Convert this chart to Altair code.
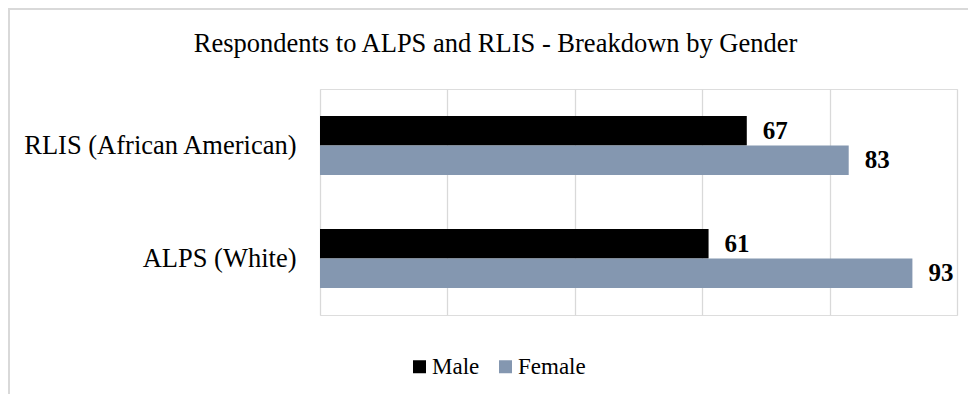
import altair as alt
import pandas as pd

groups = ["RLIS (African American)", "ALPS (White)"]
genders = ["Male", "Female"]
male_values = [67, 61]
female_values = [83, 93]
colors = ["#000000", "#8497B0"]
x_ticks = [0, 20, 40, 60, 80, 100]

rows = []
for g, m, f in zip(groups, male_values, female_values):
    rows.append({"group": g, "gender": "Male", "value": m})
    rows.append({"group": g, "gender": "Female", "value": f})
df = pd.DataFrame(rows)

FONT = "Liberation Serif, Times New Roman, Times, DejaVu Serif, serif"

y_enc = alt.Y("group:N", sort=groups, title=None,
              scale=alt.Scale(paddingInner=0.478, paddingOuter=0.239),
              axis=alt.Axis(domain=False, ticks=False, tickSize=0, labelPadding=24,
                            labelFont=FONT, labelFontSize=26.5, labelColor="#000000",
                            labelLimit=500, grid=False))
yoff_enc = alt.YOffset("gender:N", sort=genders,
                       scale=alt.Scale(paddingInner=0, paddingOuter=0))
x_enc = alt.X("value:Q", title=None,
              scale=alt.Scale(domain=[0, 100], nice=False),
              axis=alt.Axis(values=x_ticks, labels=False, ticks=False, domain=False,
                            grid=True, gridColor="#d9d9d9", gridWidth=1.3))

bars = alt.Chart(df).mark_bar(stroke=None).encode(
    y=y_enc,
    yOffset=yoff_enc,
    x=x_enc,
    color=alt.Color("gender:N", sort=genders,
                    scale=alt.Scale(domain=genders, range=colors),
                    legend=alt.Legend(title=None, orient="none", direction="horizontal",
                                      legendX=88, legendY=266, symbolType="square",
                                      symbolSize=169, symbolStrokeWidth=0,
                                      labelFont=FONT, labelFontSize=23,
                                      labelColor="#000000", labelOffset=1,
                                      columnPadding=14, padding=0)),
)

labels = alt.Chart(df).mark_text(align="left", baseline="middle", dx=16,
                                 font=FONT, fontSize=25, fontWeight="bold",
                                 color="#000000").encode(
    y=alt.Y("group:N", sort=groups),
    yOffset=alt.YOffset("gender:N", sort=genders),
    x=alt.X("value:Q"),
    text=alt.Text("value:Q"),
)

frame_data = alt.Data(values=[{"k": 1}])
left_line = alt.Chart(frame_data).mark_rule(color="#d9d9d9", strokeWidth=2).encode(
    x=alt.value(-311), y=alt.value(-80), y2=alt.value(310))
top_line = alt.Chart(frame_data).mark_rule(color="#d9d9d9", strokeWidth=2).encode(
    x=alt.value(-312), x2=alt.value(660), y=alt.value(-80))

chart = alt.layer(bars, labels, left_line, top_line).properties(
    width=637, height=226,
    title=alt.TitleParams("Respondents to ALPS and RLIS - Breakdown by Gender",
                          anchor="middle", frame="group", dx=-143, offset=0, dy=70,
                          baseline="alphabetic", font=FONT, fontSize=26.5,
                          fontWeight="normal", color="#000000"),
    padding={"left": 312, "top": 81, "right": 11, "bottom": 79},
    autosize=alt.AutoSizeParams(type="none"),
).configure_view(stroke=None).configure(background="#ffffff", font=FONT)

chart.save("out.html", embed_options={"renderer": "svg", "actions": False})
